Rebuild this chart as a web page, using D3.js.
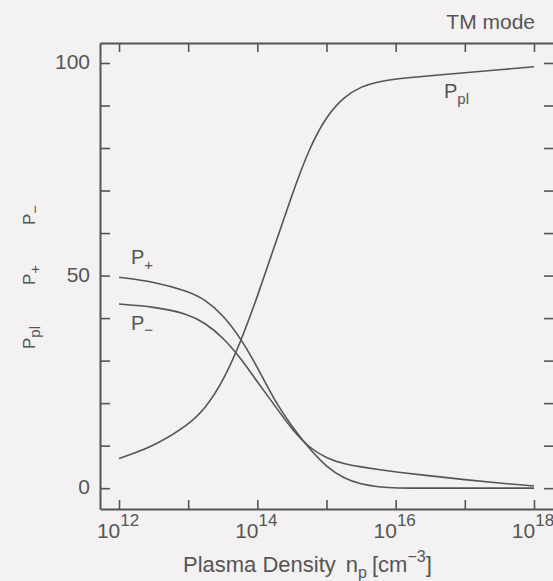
<!DOCTYPE html>
<html>
<head>
<meta charset="utf-8">
<script src="https://cdn.jsdelivr.net/npm/d3@7"></script>
<style>
  body { margin: 0; background: #f3f1f2; }
  svg { display: block; }
  text { font-family: "Liberation Sans", Arial, sans-serif; fill: #555; }
</style>
</head>
<body>
<svg id="chart" width="553" height="581"></svg>
<script>
// plasma density (log10 of cm^-3) and powers in %
var logDensity = [12, 12.5, 13, 13.25, 13.5, 13.75, 14, 14.25, 14.5, 14.75, 15, 15.25, 15.5, 15.75, 16, 16.5, 17, 17.5, 18];
var Ppl    = [7, 9.8, 14.8, 18.8, 25, 34, 45, 57, 69, 80, 87.5, 92, 94.5, 95.6, 96.3, 97, 97.7, 98.4, 99.1];
var Pplus  = [49.6, 48.6, 46.3, 44.3, 40.8, 35.5, 28.5, 20.5, 14.5, 9.3, 5, 2.3, 0.9, 0.3, 0, 0, 0, 0, 0];
var Pminus = [43.3, 42.7, 41, 38.8, 35.5, 30.8, 25, 19.5, 13.8, 9.5, 7, 5.7, 5, 4.4, 3.8, 2.9, 2, 1.2, 0.5];

var xTickExps = [12, 13, 14, 15, 16, 17, 18];
var xLabelExps = [12, 14, 16, 18];
var yTicks = [0, 10, 20, 30, 40, 50, 60, 70, 80, 90, 100];
var yLabels = [0, 50, 100];

(function() {
var svg = d3.select("#chart");
var mLeft = 100, mRight = 553, mTop = 43, mBottom = 509;
var ink = "#555";

var x = d3.scaleLog().domain([Math.pow(10, 11.725), Math.pow(10, 18.275)]).range([mLeft, mRight]);
var y = d3.scaleLinear().domain([-4.9, 104.7]).range([mBottom, mTop]);

var xTickVals = xTickExps.map(function(e) { return Math.pow(10, e); });

function styleAxis(g) {
  g.selectAll("path").attr("stroke", ink).attr("stroke-width", 2);
  g.selectAll("line").attr("stroke", ink).attr("stroke-width", 1.6);
}

// bottom
svg.append("g").attr("transform", "translate(0," + mBottom + ")")
  .call(d3.axisBottom(x).tickValues(xTickVals).tickSize(-9).tickSizeOuter(0).tickFormat(""))
  .call(styleAxis);
// top
svg.append("g").attr("transform", "translate(0," + mTop + ")")
  .call(d3.axisTop(x).tickValues(xTickVals).tickSize(-9).tickSizeOuter(0).tickFormat(""))
  .call(styleAxis);
// left
svg.append("g").attr("transform", "translate(" + mLeft + ",0)")
  .call(d3.axisLeft(y).tickValues(yTicks).tickSize(-10).tickSizeOuter(0).tickFormat(""))
  .call(styleAxis);
// right
svg.append("g").attr("transform", "translate(" + (mRight + 1) + ",0)")
  .call(d3.axisRight(y).tickValues(yTicks).tickSize(-10).tickSizeOuter(0).tickFormat(""))
  .call(styleAxis);

// x tick labels 10^n
xLabelExps.forEach(function(e) {
  var t = svg.append("text")
    .attr("x", x(Math.pow(10, e)) - 1)
    .attr("y", 538)
    .attr("text-anchor", "middle")
    .style("font-size", "21px");
  t.append("tspan").text("10");
  t.append("tspan").attr("dy", -12).style("font-size", "17px").text(e);
});

// y tick labels
yLabels.forEach(function(v) {
  svg.append("text")
    .attr("x", 90)
    .attr("y", y(v) + 6)
    .attr("text-anchor", "end")
    .style("font-size", "21px")
    .text(v);
});

// x axis title
var xt = svg.append("text").attr("x", 183).attr("y", 572).style("font-size", "22px");
xt.append("tspan").text("Plasma Density");
xt.append("tspan").attr("dx", 10).text("n");
xt.append("tspan").attr("dy", 6).style("font-size", "16px").text("p");
xt.append("tspan").attr("dy", -6).attr("dx", 5).text("[cm");
xt.append("tspan").attr("dy", -10).style("font-size", "16px").text("\u22123");
xt.append("tspan").attr("dy", 10).text("]");

// y axis title (three rotated labels)
function rotLabel(yPos, sub) {
  var t = svg.append("text")
    .attr("transform", "translate(35," + yPos + ") rotate(-90)")
    .style("font-size", "17px");
  t.append("tspan").text("P");
  t.append("tspan").attr("dy", 5).style("font-size", "15px").text(sub);
}
rotLabel(349, "pl");
rotLabel(285, "+");
rotLabel(225, "\u2212");

// TM mode
svg.append("text").attr("x", 535).attr("y", 29).attr("text-anchor", "end")
  .style("font-size", "21px").text("TM mode");

// curves
var line = d3.line()
  .x(function(d) { return x(Math.pow(10, d[0])); })
  .y(function(d) { return y(d[1]); })
  .curve(d3.curveBasis);

[Ppl, Pplus, Pminus].forEach(function(s) {
  svg.append("path")
    .datum(d3.zip(logDensity, s))
    .attr("d", line)
    .attr("fill", "none")
    .attr("stroke", ink)
    .attr("stroke-width", 1.6);
});

// curve labels
function curveLabel(xp, yp, sub, subDy) {
  var t = svg.append("text").attr("x", xp).attr("y", yp).style("font-size", "20px");
  t.append("tspan").text("P");
  t.append("tspan").attr("dy", subDy).style("font-size", "15px").text(sub);
}
curveLabel(131, 264, "+", 6);
curveLabel(131, 330, "\u2212", 5);
curveLabel(444, 98, "pl", 6);
})();
</script>
</body>
</html>
